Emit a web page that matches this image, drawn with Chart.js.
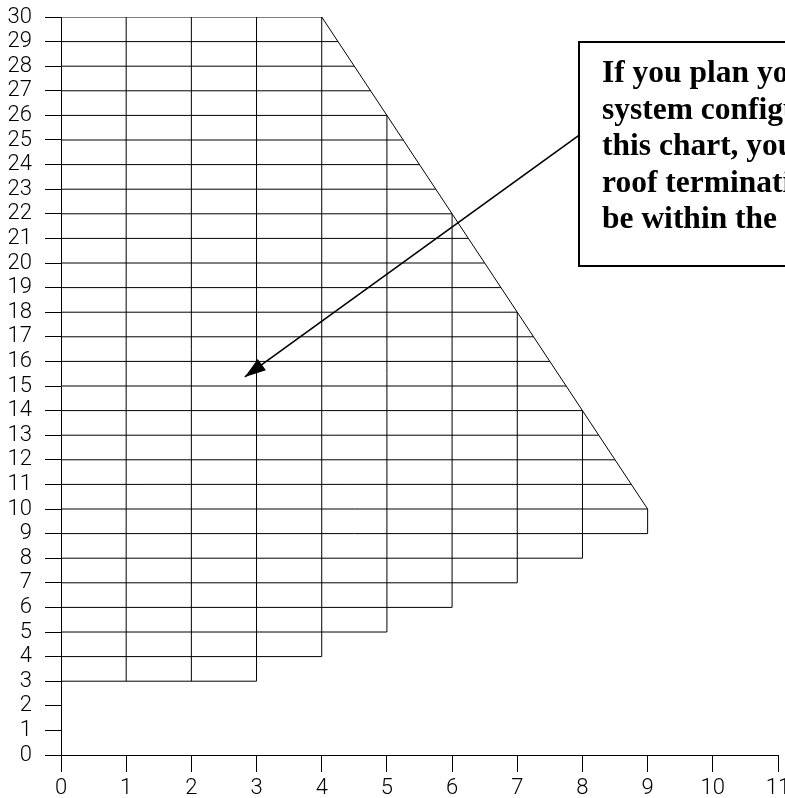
<!DOCTYPE html>
<html>
<head>
<meta charset="utf-8">
<script src="https://cdn.jsdelivr.net/npm/chart.js@4/dist/chart.umd.min.js"></script>
<style>
  html, body { margin: 0; padding: 0; background: #fff; overflow: hidden; }
  #wrap { width: 900px; height: 798px; }
</style>
</head>
<body>
<div id="wrap"><canvas id="grid" width="900" height="798"></canvas></div>
<script>
// horizontal rows: height and where each row stops on the right
var rowLevels = [3, 4, 5, 6, 7, 8, 9, 10, 11, 12, 13, 14, 15, 16, 17, 18, 19, 20, 21, 22, 23, 24, 25, 26, 27, 28, 29, 30];
var rowEnds   = [3, 4, 5, 6, 7, 8, 9, 9, 8.75, 8.5, 8.25, 8, 7.75, 7.5, 7.25, 7, 6.75, 6.5, 6.25, 6, 5.75, 5.5, 5.25, 5, 4.75, 4.5, 4.25, 4];

// vertical columns
var colX      = [1, 2, 3, 4, 5, 6, 7, 8, 9];
var colBottom = [3, 3, 3, 4, 5, 6, 7, 8, 9];
var colTop    = [30, 30, 30, 30, 26, 22, 18, 14, 10];

// sloped edge
var edgeX = [4, 9];
var edgeY = [30, 10];

// arrow from the note to the grid
var arrowX = [7.95, 2.82];
var arrowY = [25.2, 15.37];

// note box
var noteBox = { x: 7.95, top: 28.98, bottom: 19.88 };
var noteLines = [
  "If you plan your vent",
  "system configuration with",
  "this chart, your vent",
  "roof termination must",
  "be within the grid area."
];

var xMin = 0, xMax = 11;
var yMin = 0, yMax = 30;

function segment(x1, y1, x2, y2, width){
  return {
    type: 'scatter',
    showLine: true,
    data: [{x: x1, y: y1}, {x: x2, y: y2}],
    borderColor: '#000',
    borderWidth: width || 1,
    pointRadius: 0,
    pointHoverRadius: 0
  };
}

function buildDatasets(){
  var sets = [];
  for (var i = 0; i < rowLevels.length; i++){
    sets.push(segment(0, rowLevels[i], rowEnds[i], rowLevels[i]));
  }
  for (var j = 0; j < colX.length; j++){
    sets.push(segment(colX[j], colBottom[j], colX[j], colTop[j]));
  }
  sets.push(segment(edgeX[0], edgeY[0], edgeX[1], edgeY[1]));
  sets.push(segment(arrowX[0], arrowY[0], arrowX[1], arrowY[1], 1.6));
  return sets;
}

var notePlugin = {
  id: 'note',
  afterDatasetsDraw: function(chart){
    var ctx = chart.ctx;
    var xs = chart.scales.x, ys = chart.scales.y;

    // arrow head
    var tx = xs.getPixelForValue(arrowX[1]), ty = ys.getPixelForValue(arrowY[1]);
    var sx = xs.getPixelForValue(arrowX[0]), sy = ys.getPixelForValue(arrowY[0]);
    var ang = Math.atan2(ty - sy, tx - sx);
    var len = 21, half = 7;
    ctx.save();
    ctx.fillStyle = '#000';
    ctx.beginPath();
    ctx.moveTo(tx, ty);
    ctx.lineTo(tx - len * Math.cos(ang) - half * Math.sin(ang), ty - len * Math.sin(ang) + half * Math.cos(ang));
    ctx.lineTo(tx - len * Math.cos(ang) + half * Math.sin(ang), ty - len * Math.sin(ang) - half * Math.cos(ang));
    ctx.closePath();
    ctx.fill();

    // box
    var bx = Math.round(xs.getPixelForValue(noteBox.x));
    var bt = Math.round(ys.getPixelForValue(noteBox.top));
    var bb = Math.round(ys.getPixelForValue(noteBox.bottom));
    ctx.fillStyle = '#fff';
    ctx.fillRect(bx, bt, chart.width - bx + 20, bb - bt);
    ctx.strokeStyle = '#000';
    ctx.lineWidth = 2;
    ctx.strokeRect(bx, bt, chart.width - bx + 20, bb - bt);

    ctx.fillStyle = '#000';
    ctx.font = 'bold 31.5px "Liberation Serif", "DejaVu Serif", serif';
    ctx.textAlign = 'left';
    ctx.textBaseline = 'alphabetic';
    for (var i = 0; i < noteLines.length; i++){
      ctx.fillText(noteLines[i], bx + 23, bt + 40 + i * 36.6);
    }
    ctx.restore();
  }
};

function init(){
  var tickFont = { family: 'Roboto, "Liberation Sans", sans-serif', size: 22, weight: '300' };
  var ctx = document.getElementById('grid').getContext('2d');
  new Chart(ctx, {
    type: 'scatter',
    data: { datasets: buildDatasets() },
    plugins: [notePlugin],
    options: {
      responsive: false,
      animation: false,
      devicePixelRatio: 1,
      layout: { padding: { left: 0, top: 17, right: 122, bottom: 0 } },
      plugins: { legend: { display: false }, tooltip: { enabled: false } },
      scales: {
        x: {
          type: 'linear',
          min: xMin,
          max: xMax,
          afterFit: function(scale){ scale.height = 43; },
          ticks: { stepSize: 1, autoSkip: false, maxRotation: 0, color: '#000', font: tickFont, padding: 3 },
          grid: { drawOnChartArea: false, drawTicks: true, tickLength: 17, color: '#000', lineWidth: 1 },
          border: { display: true, color: '#000', width: 1 }
        },
        y: {
          type: 'linear',
          min: yMin,
          max: yMax,
          afterFit: function(scale){
            scale.width = 61;
            scale.paddingTop = 10;
            scale.paddingBottom = 10;
          },
          ticks: { stepSize: 1, autoSkip: false, color: '#000', font: tickFont, padding: 13 },
          grid: { drawOnChartArea: false, drawTicks: true, tickLength: 16, color: '#000', lineWidth: 1 },
          border: { display: true, color: '#000', width: 1 }
        }
      }
    }
  });
}

init();
</script>
</body>
</html>
